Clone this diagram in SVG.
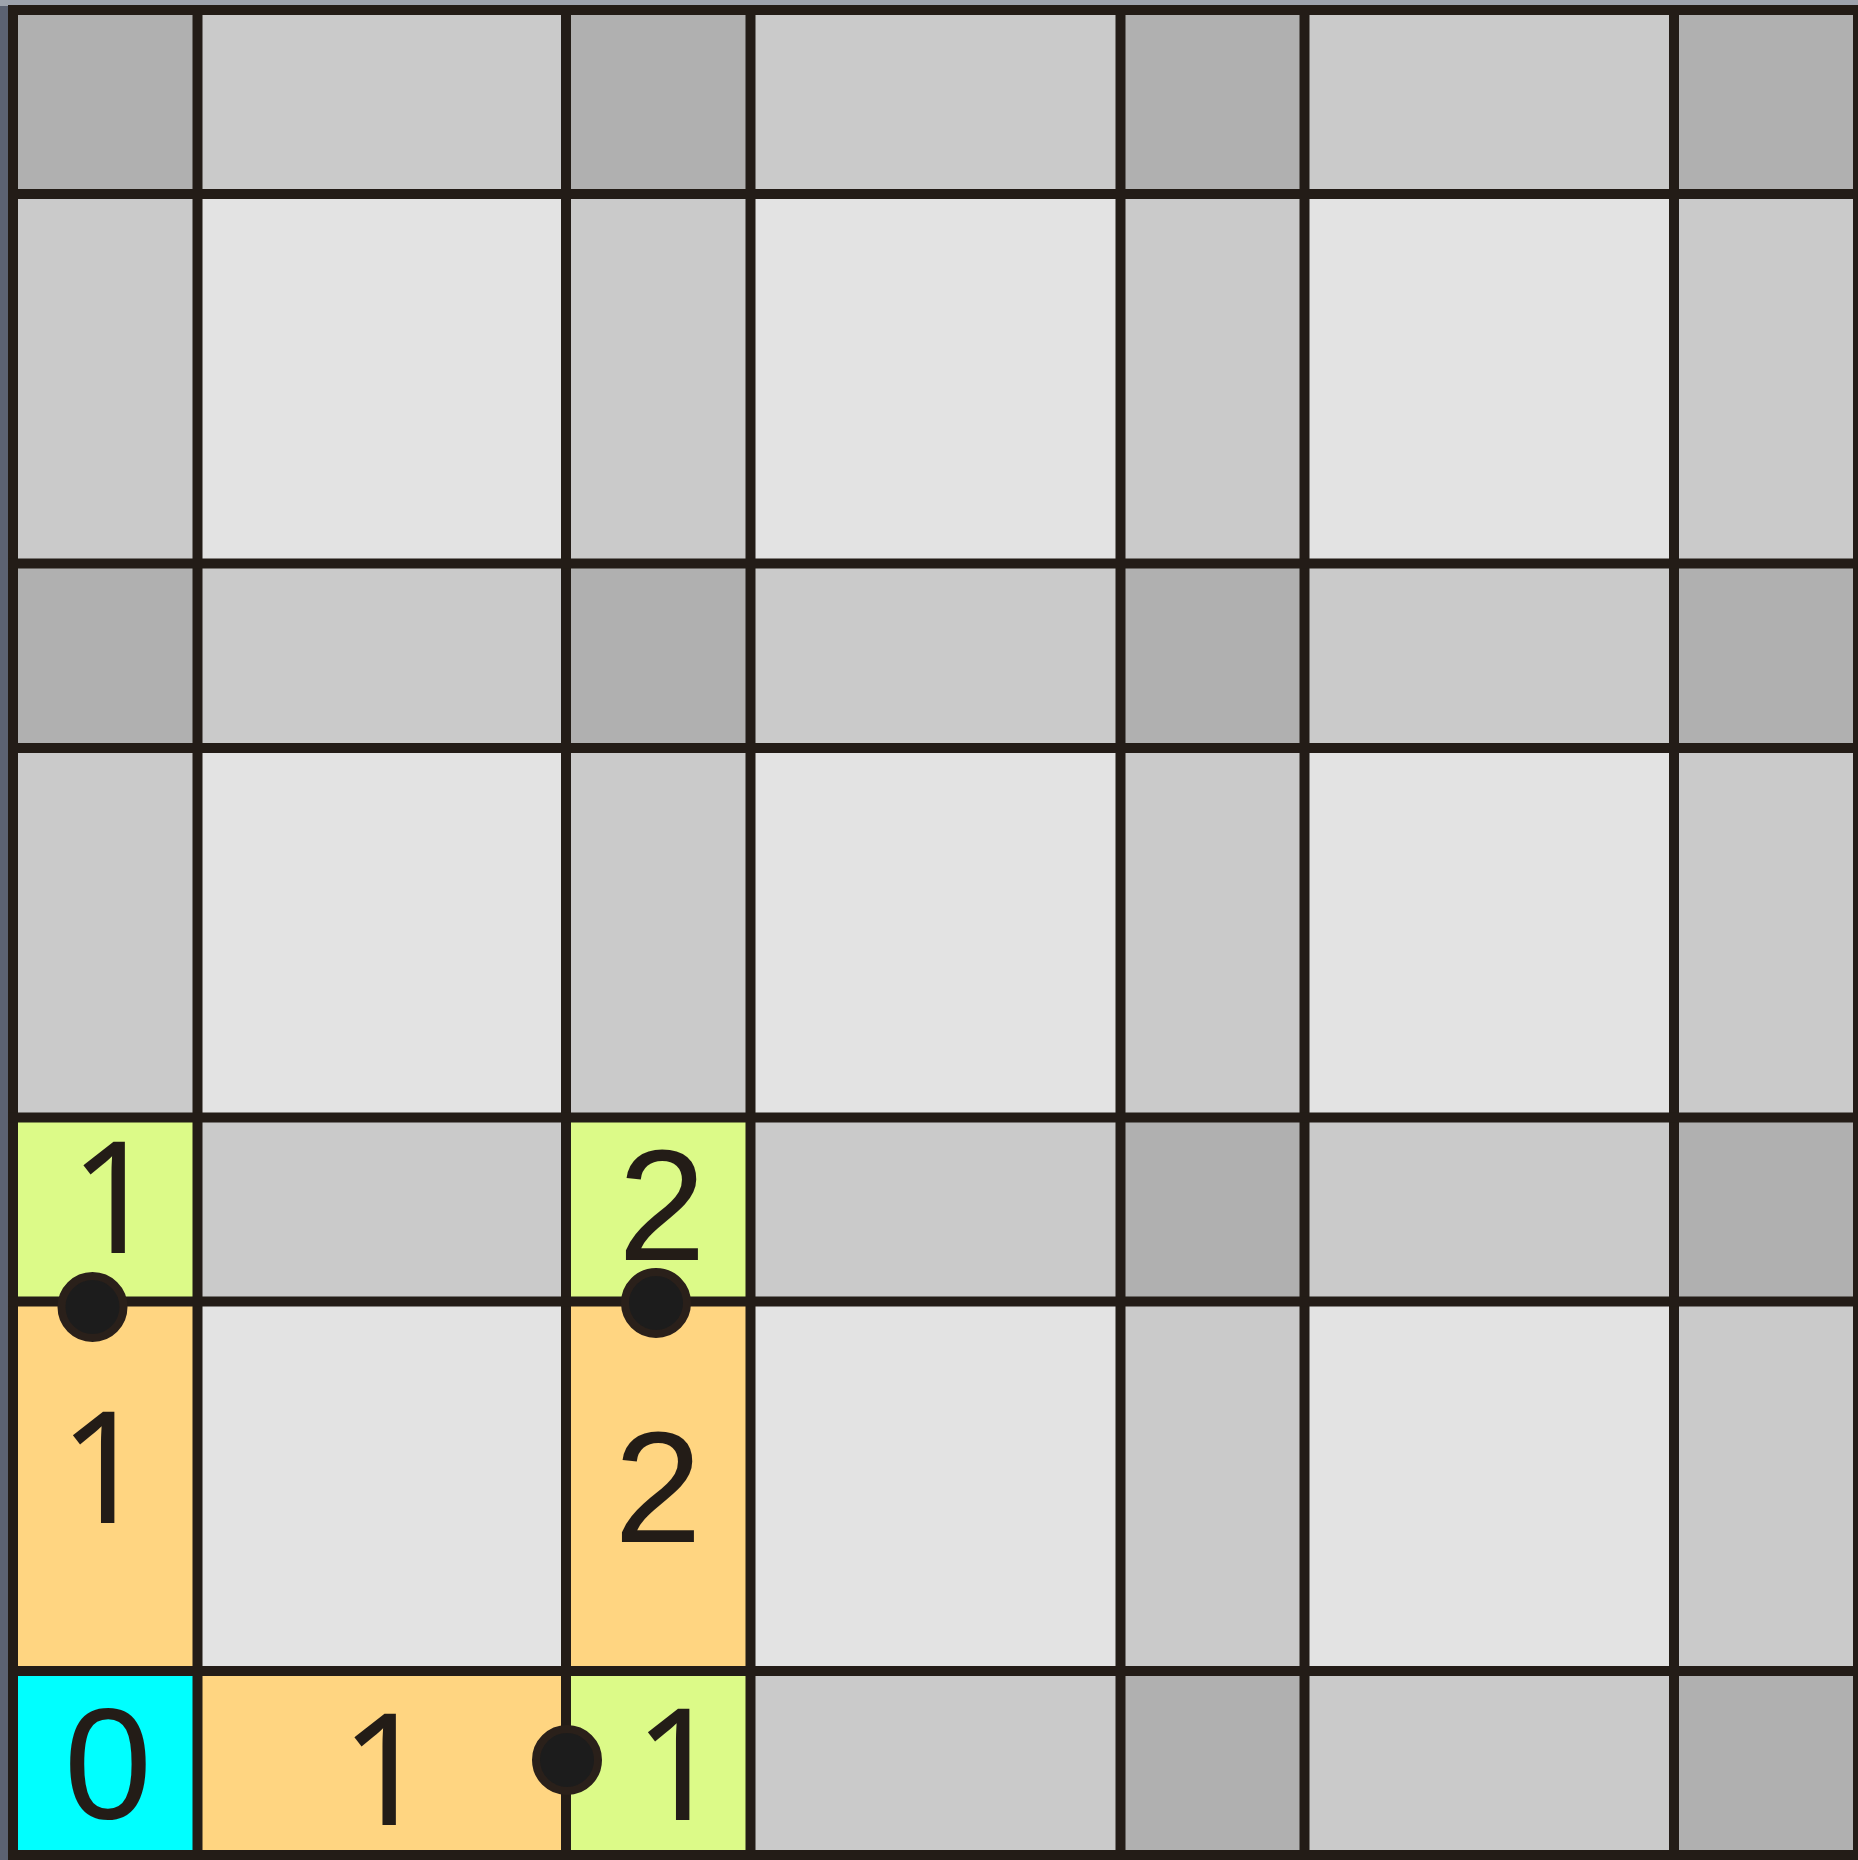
<svg xmlns="http://www.w3.org/2000/svg" width="1858" height="1860" viewBox="0 0 1858 1860">
<style>
.d{fill:#b0b0b0}.m{fill:#cacaca}.l{fill:#e3e3e3}
.y{fill:#dcfa88}.o{fill:#ffd581}.c{fill:#00ffff}
.ln{stroke:#231c17;stroke-width:10;fill:none}
.t{font-family:"Liberation Sans",Arial,sans-serif;font-size:158px;fill:#231c17;text-anchor:middle}
.t1{font-family:"Noto Sans",sans-serif;font-size:156px;fill:#231c17;text-anchor:middle}
.dot{fill:#1c1c1c;stroke:#2a201a;stroke-width:8}
</style>
<rect x="0" y="0" width="1858" height="1860" fill="#5c6272"/>
<rect x="0" y="0" width="1858" height="6" fill="#9ea3ad"/>
<g id="cells">
<rect class="d" x="13" y="10" width="184.5" height="184"/>
<rect class="m" x="197.5" y="10" width="368.5" height="184"/>
<rect class="d" x="566" y="10" width="184.5" height="184"/>
<rect class="m" x="750.5" y="10" width="370" height="184"/>
<rect class="d" x="1120.5" y="10" width="184" height="184"/>
<rect class="m" x="1304.5" y="10" width="369.5" height="184"/>
<rect class="d" x="1674" y="10" width="184" height="184"/>
<rect class="m" x="13" y="194" width="184.5" height="369.5"/>
<rect class="l" x="197.5" y="194" width="368.5" height="369.5"/>
<rect class="m" x="566" y="194" width="184.5" height="369.5"/>
<rect class="l" x="750.5" y="194" width="370" height="369.5"/>
<rect class="m" x="1120.5" y="194" width="184" height="369.5"/>
<rect class="l" x="1304.5" y="194" width="369.5" height="369.5"/>
<rect class="m" x="1674" y="194" width="184" height="369.5"/>
<rect class="d" x="13" y="563.5" width="184.5" height="184.5"/>
<rect class="m" x="197.5" y="563.5" width="368.5" height="184.5"/>
<rect class="d" x="566" y="563.5" width="184.5" height="184.5"/>
<rect class="m" x="750.5" y="563.5" width="370" height="184.5"/>
<rect class="d" x="1120.5" y="563.5" width="184" height="184.5"/>
<rect class="m" x="1304.5" y="563.5" width="369.5" height="184.5"/>
<rect class="d" x="1674" y="563.5" width="184" height="184.5"/>
<rect class="m" x="13" y="748" width="184.5" height="369.5"/>
<rect class="l" x="197.5" y="748" width="368.5" height="369.5"/>
<rect class="m" x="566" y="748" width="184.5" height="369.5"/>
<rect class="l" x="750.5" y="748" width="370" height="369.5"/>
<rect class="m" x="1120.5" y="748" width="184" height="369.5"/>
<rect class="l" x="1304.5" y="748" width="369.5" height="369.5"/>
<rect class="m" x="1674" y="748" width="184" height="369.5"/>
<rect class="y" x="13" y="1117.5" width="184.5" height="184"/>
<rect class="m" x="197.5" y="1117.5" width="368.5" height="184"/>
<rect class="y" x="566" y="1117.5" width="184.5" height="184"/>
<rect class="m" x="750.5" y="1117.5" width="370" height="184"/>
<rect class="d" x="1120.5" y="1117.5" width="184" height="184"/>
<rect class="m" x="1304.5" y="1117.5" width="369.5" height="184"/>
<rect class="d" x="1674" y="1117.5" width="184" height="184"/>
<rect class="o" x="13" y="1301.5" width="184.5" height="369.5"/>
<rect class="l" x="197.5" y="1301.5" width="368.5" height="369.5"/>
<rect class="o" x="566" y="1301.5" width="184.5" height="369.5"/>
<rect class="l" x="750.5" y="1301.5" width="370" height="369.5"/>
<rect class="m" x="1120.5" y="1301.5" width="184" height="369.5"/>
<rect class="l" x="1304.5" y="1301.5" width="369.5" height="369.5"/>
<rect class="m" x="1674" y="1301.5" width="184" height="369.5"/>
<rect class="c" x="13" y="1671" width="184.5" height="189"/>
<rect class="o" x="197.5" y="1671" width="368.5" height="189"/>
<rect class="y" x="566" y="1671" width="184.5" height="189"/>
<rect class="m" x="750.5" y="1671" width="370" height="189"/>
<rect class="d" x="1120.5" y="1671" width="184" height="189"/>
<rect class="m" x="1304.5" y="1671" width="369.5" height="189"/>
<rect class="d" x="1674" y="1671" width="184" height="189"/>
</g>
<g id="grid-lines">
<path class="ln" d="M13 5V1860M197.5 5V1860M566 5V1860M750.5 5V1860M1120.5 5V1860M1304.5 5V1860M1674 5V1860M1858 5V1860"/>
<path class="ln" d="M8 10H1858M8 194H1858M8 563.5H1858M8 748H1858M8 1117.5H1858M8 1301.5H1858M8 1671H1858M8 1855H1858"/>
</g>
<g id="labels">
<text class="t1" x="114" y="1253">1</text>
<text class="t" x="662" y="1260">2</text>
<text class="t1" x="103.5" y="1523">1</text>
<text class="t" x="658" y="1542">2</text>
<text class="t" x="108" y="1818">0</text>
<text class="t1" x="385" y="1825">1</text>
<text class="t1" x="678.5" y="1820">1</text>
</g>
<g id="dots">
<circle class="dot" cx="92.5" cy="1307" r="31"/>
<circle class="dot" cx="656" cy="1303" r="31"/>
<circle class="dot" cx="567" cy="1760" r="31"/>
</g>
</svg>
